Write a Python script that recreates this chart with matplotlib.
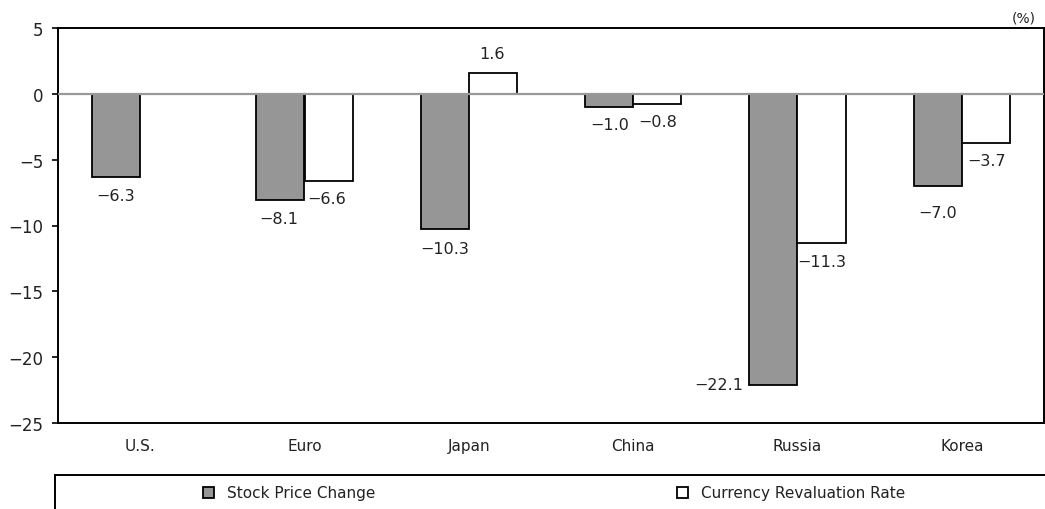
import numpy as np
import matplotlib.pyplot as plt
from matplotlib.patches import Rectangle

plt.rcParams['font.family'] = ['DejaVu Sans']

# values (%)
countries = ["U.S.", "Euro", "Japan", "China", "Russia", "Korea"]
stock_change = [-6.3, -8.1, -10.3, -1.0, -22.1, -7.0]
currency_rate = [np.nan, -6.6, 1.6, -0.8, -11.3, -3.7]
yticks = [5, 0, -5, -10, -15, -20, -25]

# label nudges in pixels (dx, dy, ha) so labels sit like the original
stock_off = [(-1, -19, 'center'), (-2, -18, 'center'), (0, -19, 'center'),
             (1, -17, 'center'), (-30, 0, 'right'), (0, -27, 'center')]
curr_off = [None, (-2, -18, 'center'), (-1, 19, 'center'),
            (0, -17, 'center'), (0, -19, 'center'), (1, -18, 'center')]

fig = plt.figure(figsize=(10.45, 5.1), dpi=100)
ax = fig.add_axes([58/1045, 1-424/510, 986/1045, 395/510])

x = np.arange(len(countries))
w = 0.293
b1 = ax.bar(x - w/2, stock_change, w, color='#969696', edgecolor='black', linewidth=1.3, label="Stock Price Change")
b2 = ax.bar(x + w/2, currency_rate, w, color='white', edgecolor='black', linewidth=1.3, label="Currency Revaluation Rate")
ax.axhline(0, color='#999999', lw=1.6, zorder=5)

def fmt(v, dec=1):
    s = "%.*f" % (dec, abs(v))
    return ("\u2212" + s) if v < 0 else s

for i, v in enumerate(stock_change):
    dx, dy, ha = stock_off[i]
    ax.annotate(fmt(v), (x[i] - w/2, v), xytext=(dx, dy), textcoords='offset pixels',
                ha=ha, va='center', fontsize=11.5, color='#222222')
for i, v in enumerate(currency_rate):
    if np.isnan(v):
        continue
    dx, dy, ha = curr_off[i]
    ax.annotate(fmt(v), (x[i] + w/2, v), xytext=(dx, dy), textcoords='offset pixels',
                ha=ha, va='center', fontsize=11.5, color='#222222')

ax.set_xlim(-0.5, len(countries) - 0.5)
ax.set_ylim(-25, 5)
ax.set_yticks(yticks)
ax.set_yticklabels([fmt(t, 0) for t in yticks], fontsize=12, color='#222222')
ax.set_xticks(x)
ax.set_xticklabels(countries, fontsize=11, color='#222222')
ax.tick_params(axis='y', length=4.5, width=1.2, pad=6)
ax.tick_params(axis='x', length=0, pad=11)
for s in ax.spines.values():
    s.set_linewidth(1.4)

fig.text(1036/1045, 1-18/510, "(%)", ha='right', va='center', fontsize=10, color='#222222')

# legend box running off the figure edge
fig.patches.append(Rectangle((55/1045, 1-590/510), 1100/1045, 114/510, transform=fig.transFigure,
                             fill=False, edgecolor='black', linewidth=1.4, clip_on=False))
for h, xp in [(b1, 203), (b2, 677)]:
    fig.legend(handles=[h], loc='center left', bbox_to_anchor=(xp/1045, 1-494/510), frameon=False,
               fontsize=11, handlelength=0.7, handleheight=0.7, handletextpad=0.9,
               borderpad=0, borderaxespad=0, labelcolor='#222222')

fig.savefig("out.png", dpi=100)
